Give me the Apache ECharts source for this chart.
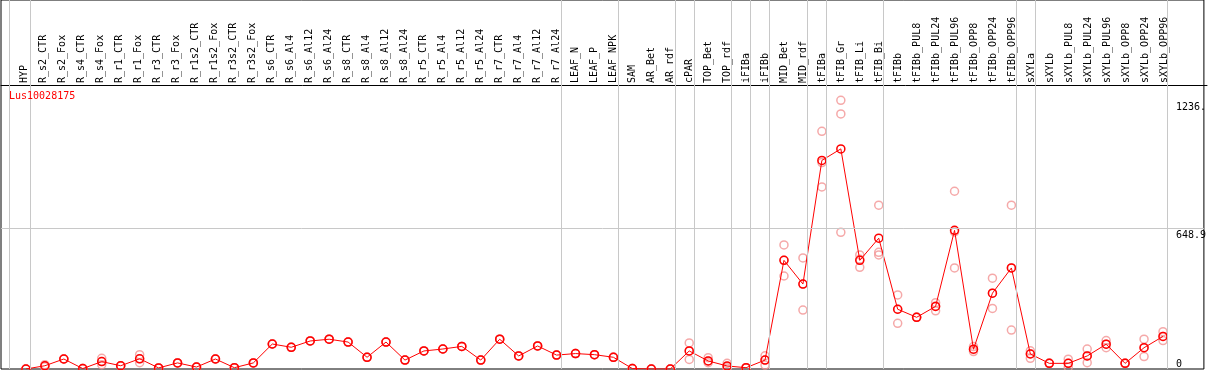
<!DOCTYPE html>
<html>
<head>
<meta charset="utf-8">
<script src="https://cdn.jsdelivr.net/npm/echarts@6/dist/echarts.min.js"></script>
<style>
  html, body { margin: 0; padding: 0; background: #fff; }
  #chart { width: 1209px; height: 370px; }
</style>
</head>
<body>
<div id="chart"></div>
<script>
// sample names along the top
var categories = [
    'HYP', 'R_s2_CTR', 'R_s2_Fox', 'R_s4_CTR', 'R_s4_Fox', 'R_r1_CTR', 'R_r1_Fox', 'R_r3_CTR', 'R_r3_Fox',
    'R_r1s2_CTR', 'R_r1s2_Fox', 'R_r3s2_CTR', 'R_r3s2_Fox', 'R_s6_CTR', 'R_s6_Al4', 'R_s6_Al12', 'R_s6_Al24',
    'R_s8_CTR', 'R_s8_Al4', 'R_s8_Al12', 'R_s8_Al24', 'R_r5_CTR', 'R_r5_Al4', 'R_r5_Al12', 'R_r5_Al24',
    'R_r7_CTR', 'R_r7_Al4', 'R_r7_Al12', 'R_r7_Al24', 'LEAF_N', 'LEAF_P', 'LEAF_NPK', 'SAM', 'AR_Bet', 'AR_rdf',
    'cPAR', 'TOP_Bet', 'TOP_rdf', 'iFIBa', 'iFIBb', 'MID_Bet', 'MID_rdf', 'tFIBa', 'tFIB_Gr', 'tFIB_Li', 'tFIB_Bi',
    'tFIBb', 'tFIBb_PUL8', 'tFIBb_PUL24', 'tFIBb_PUL96', 'tFIBb_OPP8', 'tFIBb_OPP24', 'tFIBb_OPP96',
    'sXYLa', 'sXYLb', 'sXYLb_PUL8', 'sXYLb_PUL24', 'sXYLb_PUL96', 'sXYLb_OPP8', 'sXYLb_OPP24', 'sXYLb_OPP96'
];

// mean expression (red line)
var meanValues = [
    0, 15, 46, 2, 34, 15, 47, 5, 28, 9, 46, 6, 28, 115, 100, 129, 137, 124, 54, 124, 41,
    83, 92, 104, 41, 137, 60, 106, 64, 71, 66, 54, 2, 0, 0,
    83, 37, 14, 6, 41, 500, 391, 960, 1013, 500, 602,
    275, 238, 288, 638, 91, 349, 465,
    69, 26, 26, 60, 114, 26, 98, 150
];

// replicates (pale circles)
var rep1 = [
    0, 20, 46, 2, 49, 15, 66, 5, 28, 9, 46, 6, 28, 115, 100, 129, 137, 124, 54, 124, 41,
    83, 92, 104, 41, 137, 60, 106, 64, 71, 66, 54, 2, 0, 0,
    120, 52, 26, 6, 61, 571, 511, 1094, 1236.5, 525, 754,
    341, 238, 305, 818, 103, 418, 754,
    84, 26, 45, 92, 131, 26, 137, 172
];
var rep2 = [
    0, 10, 46, 2, 20, 15, 29, 5, 28, 9, 46, 6, 28, 115, 100, 129, 137, 124, 54, 124, 41,
    83, 92, 104, 41, 137, 60, 106, 64, 71, 66, 54, 2, 0, 0,
    44, 29, 5, 6, 18, 428, 271, 838, 1174, 468, 537,
    210, 238, 268, 465, 80, 279, 179,
    49, 26, 8, 29, 98, 26, 57, 131
];
var rep3 = [
    0, 15, 46, 2, 34, 15, 47, 5, 28, 9, 46, 6, 28, 115, 100, 129, 137, 124, 54, 124, 41,
    83, 92, 104, 41, 137, 60, 106, 64, 71, 66, 54, 2, 0, 0,
    83, 37, 12, 6, 41, 500, 391, 950, 629, 505, 525,
    275, 238, 290, 631, 90, 349, 465,
    70, 26, 26, 60, 114, 26, 98, 150
];

var yTicks = [0, 648.9, 1236.5];
var refValue = 648.9;
// group separators are drawn right after these sample indexes
var groupEnds = [-1.1, 0, 28, 31, 34, 35, 37, 38, 39, 41, 42, 45, 52, 53, 60];

var font = 'DejaVu Sans Mono';
var xMin = -25 / 19;
var xMax = 1181 / 19;
var yMax = 1698.2;
var labelShift = 1.5 / 19;   // header names sit a little left of the points

var idx = categories.map(function (c, i) { return i; });
var meanData = meanValues.map(function (v, i) { return [i, v]; });
var repData = [];
[rep1, rep2, rep3].forEach(function (arr) {
    arr.forEach(function (v, i) { repData.push([i, v]); });
});

var sepLines = groupEnds.map(function (i) { return {xAxis: i + 4.5 / 19}; });
sepLines.push({yAxis: refValue});

var myChart = echarts.init(document.getElementById('chart'));
myChart.setOption({
    animation: false,
    title: {
        text: 'Lus10028175',
        left: 9,
        top: 91,
        padding: 0,
        textStyle: {color: '#ff0000', fontSize: 10, fontWeight: 'normal', fontFamily: font}
    },
    grid: [
        {left: 1, right: 2, top: 0, height: 85},
        {left: 1, right: 2, top: 0, bottom: 1, show: true, borderColor: '#000', borderWidth: 1}
    ],
    xAxis: [
        {
            gridIndex: 0,
            type: 'value',
            min: xMin + labelShift,
            max: xMax + labelShift,
            position: 'bottom',
            axisLine: {show: true, lineStyle: {color: '#000', width: 1}},
            axisTick: {show: false},
            splitLine: {show: false},
            axisLabel: {
                inside: true,
                rotate: 90,
                margin: 2,
                customValues: idx,
                formatter: function (v) { return categories[Math.round(v)]; },
                color: '#000',
                fontSize: 10,
                fontFamily: font
            }
        },
        {
            gridIndex: 1,
            type: 'value',
            min: xMin,
            max: xMax,
            show: false
        }
    ],
    yAxis: [
        {gridIndex: 0, type: 'value', min: 0, max: 1, show: false},
        {
            gridIndex: 1,
            type: 'value',
            min: 0,
            max: yMax,
            position: 'right',
            axisLine: {show: false},
            axisTick: {show: false},
            splitLine: {show: false},
            axisLabel: {
                inside: true,
                margin: 28,
                align: 'left',
                verticalAlign: 'top',
                padding: [2, 0, 0, 0],
                customValues: yTicks.slice(1),
                formatter: function (v) { return String(v).slice(0, 5); },
                color: '#000',
                fontSize: 10,
                fontFamily: font
            }
        },
        {
            gridIndex: 1,
            type: 'value',
            min: 0,
            max: yMax,
            position: 'right',
            axisLine: {show: false},
            axisTick: {show: false},
            splitLine: {show: false},
            axisLabel: {
                inside: true,
                margin: 28,
                align: 'left',
                verticalAlign: 'bottom',
                customValues: yTicks.slice(0, 1),
                formatter: function (v) { return String(v); },
                color: '#000',
                fontSize: 10,
                fontFamily: font
            }
        }
    ],
    series: [
        {
            type: 'scatter',
            xAxisIndex: 1,
            yAxisIndex: 1,
            symbol: 'circle',
            symbolSize: 8,
            data: repData,
            itemStyle: {color: 'rgba(0,0,0,0)', borderColor: '#f29494', borderWidth: 1.5},
            markLine: {
                silent: true,
                symbol: 'none',
                label: {show: false},
                lineStyle: {color: '#c8c8c8', width: 1, type: 'solid'},
                data: sepLines
            },
            z: 2
        },
        {
            type: 'line',
            xAxisIndex: 1,
            yAxisIndex: 1,
            data: meanData,
            symbol: 'circle',
            symbolSize: 8,
            showAllSymbol: true,
            lineStyle: {color: '#ff0000', width: 1},
            itemStyle: {color: 'rgba(0,0,0,0)', borderColor: '#ff0000', borderWidth: 1.5},
            z: 3
        }
    ]
});
</script>
</body>
</html>
